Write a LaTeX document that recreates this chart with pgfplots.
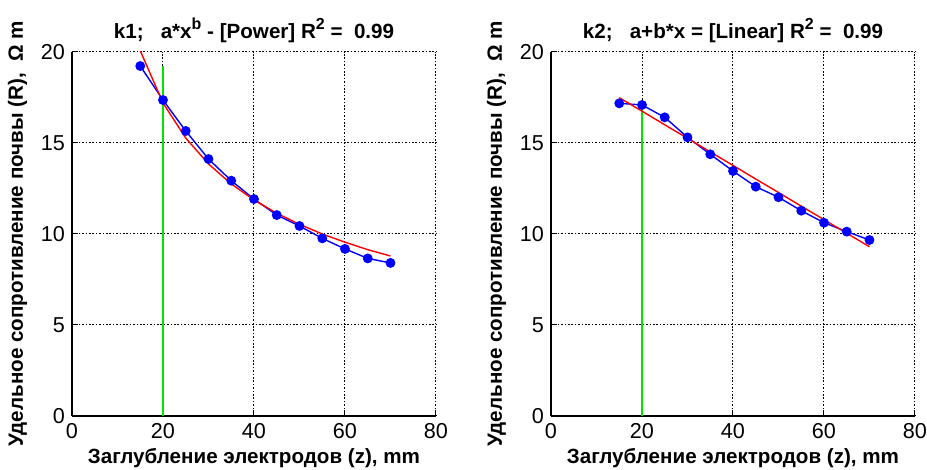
\documentclass[border=0pt]{standalone}
\usepackage{fontspec}
\setmainfont{Liberation Sans}
\usepackage{pgfplots}
\pgfplotsset{compat=1.18}

\definecolor{mblue}{rgb}{0,0,1}
\definecolor{mred}{rgb}{1,0,0}
\definecolor{mgreen}{rgb}{0,0.9,0}

% measured points, k1
\pgfplotstableread{
z R
15 19.23
20 17.36
25 15.66
30 14.12
35 12.93
40 11.92
45 11.04
50 10.44
55 9.76
60 9.18
65 8.66
70 8.41
}\dataA
% power fit a*x^b
\pgfplotstableread{
z R
15 20.07
20 17.20
25 15.27
30 13.85
35 12.75
40 11.87
45 11.14
50 10.53
55 10.00
60 9.55
65 9.14
70 8.79
}\fitA
% measured points, k2
\pgfplotstableread{
z R
15 17.18
20 17.09
25 16.41
30 15.31
35 14.38
40 13.46
45 12.60
50 12.02
55 11.28
60 10.62
65 10.13
70 9.67
}\dataB
% linear fit a+b*x
\pgfplotstableread{
z R
15 17.49
20 16.75
25 16.00
30 15.26
35 14.51
40 13.77
45 13.02
50 12.28
55 11.53
60 10.79
65 10.04
70 9.30
}\fitB

\newcommand{\supr}[1]{\raisebox{0.45em}{\fontsize{8}{9}\selectfont #1}}

\pgfplotsset{
  soilax/.style={
    scale only axis, width=182pt, height=182pt,
    xmin=0, xmax=80, ymin=0, ymax=20,
    xtick={0,20,...,80}, ytick={0,5,...,20},
    axis lines=left, axis line style={-, line width=1.1pt},
    grid=major, major grid style={black, line width=0.5pt, dash pattern=on 0.8pt off 0.9pt},
    tick align=inside, major tick length=3pt, tick style={black, line width=0.5pt},
    ticklabel style={font=\fontsize{10.8}{12}\selectfont},
    /pgf/number format/assume math mode=true,
    xlabel={Заглубление электродов (z), mm},
    ylabel={Удельное сопротивление почвы (R),\ \ Ω m},
    label style={font=\bfseries\fontsize{10.3}{12}\selectfont},
    xlabel style={yshift=2pt},
    title style={font=\bfseries\fontsize{10.3}{12}\selectfont, yshift=-5pt},
  },
  meas/.style={mblue, line width=0.7pt, mark=*, mark size=2.1pt, mark options={solid, fill=mblue, draw=mblue}},
  fit/.style={mred, line width=0.7pt, no marks},
}

\begin{document}
\begin{tikzpicture}
\path[use as bounding box] (-36pt,-27pt) rectangle (427.5pt,208pt);

\begin{axis}[soilax, at={(0,0)},
  title={k1;\ \ \ a*x\supr{b} - [Power] R\supr{2} =\ \ 0.99}]
\addplot[mgreen, line width=0.8pt] coordinates {(20,0) (20,19.23)};
\addplot[meas] table[x=z, y=R] {\dataA};
\addplot[fit] table[x=z, y=R] {\fitA};
\end{axis}

\begin{axis}[soilax, at={(239.5pt,0)},
  title={k2;\ \ \ a+b*x = [Linear] R\supr{2} =\ \ 0.99}]
\addplot[mgreen, line width=0.8pt] coordinates {(20,0) (20,17.18)};
\addplot[meas] table[x=z, y=R] {\dataB};
\addplot[fit] table[x=z, y=R] {\fitB};
\end{axis}
\end{tikzpicture}
\end{document}
